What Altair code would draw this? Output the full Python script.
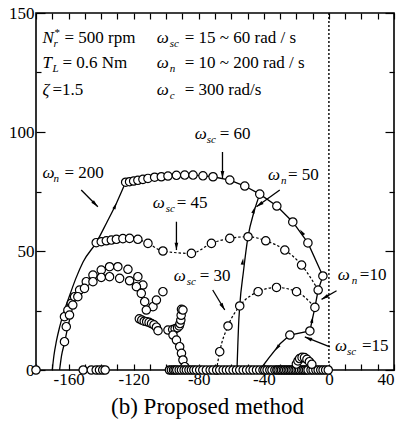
import altair as alt
import pandas as pd
import numpy as np

FONT = "Liberation Serif"
W, H = 358, 357
XD = [-180, 40]
YD = [0, 150]
PX = W / (XD[1] - XD[0])   # px per x unit
PY = H / (YD[1] - YD[0])   # px per y unit

# ---------------- data ----------------
# omega_sc = 60 branch (circles joined by solid line)
s60_x = [-124.9, -122.5, -120, -117.4, -114.3, -111.2, -107.1, -103, -98.9, -93.7, -88.6, -83.5,
         -77.4, -71.2, -60.9, -51.7, -42.5, -32, -22.2, -12.9, -3.7]
s60_y = [78.9, 79.1, 79.4, 79.7, 80.1, 80.5, 81, 81.2, 81.5, 81.8, 81.9, 81.9,
         81.6, 81.2, 79.8, 77.3, 73.9, 68.9, 62.2, 53.4, 39.5]
# omega_sc = 45 branch (circles, dotted line)
s45_x = [-143, -139.9, -136.8, -133.7, -130.6, -126.6, -122.5, -117.4, -111.2, -102, -84.5,
         -72.2, -60.9, -49.7, -38.8, -27.1, -16.8, -6.6]
s45_y = [53.5, 53.9, 54.3, 54.6, 54.9, 55.2, 55.3, 54.9, 53.2, 50, 49,
         53.2, 55.3, 56, 54.3, 50.4, 44.1, 33.6]
# omega_sc = 30 branch (circles, dotted line)
s30_x = [-69.1, -67.1, -62, -54.8, -43.5, -32.2, -19.9, -8.6]
s30_y = [0, 7.7, 18.5, 26.9, 32.9, 34.7, 32.9, 26.3]
# omega_sc = 15 complex poles
s15_x = [-24, -11.7]
s15_y = [14.7, 16.4]
# left complex branches (circles only)
arcU_x = [-162.5, -160.4, -158.3, -156.3, -153.2, -149.1, -145, -139.9, -134.8, -129.7, -123.5,
          -117.4, -114.3, -108.1, -106, -102]
arcU_y = [22.4, 25.2, 28, 30.8, 33.6, 37.1, 39.9, 42, 43.4, 43.4, 42.3,
          39.2, 35.7, 26.6, 29.4, 32.9]
arcL_x = [-162.5, -161.4, -159.4, -157.4, -154.3, -150.2, -145, -139.9, -134.8, -128.6, -122.5,
          -118.3, -115.3, -113.2, -112.2]
arcL_y = [11.9, 18.2, 23.1, 27.3, 30.8, 34.3, 37.1, 38.9, 39.2, 38.5, 37.5,
          35, 32.2, 28.7, 25.2]
clus_x = [-116.5, -115, -113.5, -112, -110.5, -109, -107.5, -106, -105, -98.9, -96, -94.5,
          -93, -92, -91.5, -91, -90.8, -90.6, -89.7]
clus_y = [21.5, 21, 20.5, 20.3, 20, 19.5, 19, 18, 16.5, 16.8, 17, 17.3,
          17.8, 18.5, 19.5, 21, 23, 25.5, 25.2]
vert_x = [-95.8, -93.7, -91.7, -90.6, -89.7, -88.6]
vert_y = [14.7, 12.6, 9.8, 7, 4.2, 1.4]
# real-axis poles
axis_x = [-180, -151, -146, -143, -141, -139, -137.5,
          -98, -96.8, -95.5, -94.5, -93.5, -92, -90.6, -89, -87.6, -86, -84.5, -83, -81.4,
          -79.4, -77.5, -75.3, -73, -71.2, -69, -67.1, -65, -63, -61, -58.9, -56.8, -54.8,
          -52.7, -50.6, -48.5, -46.6, -44.5, -42.5, -40.5, -39.4, -38, -36.3, -35, -33.2,
          -32, -31.2, -30, -29.1, -28, -27.1, -26, -25, -24, -23, -22, -20.9, -20, -18.9,
          -18, -16.8, -15.8, -14.8, -13.8, -12.8, -11, -9.7, -8, -6.6, -5, -3.6, -2, -0.4]
bump_x = [-20, -19, -18, -16.5, -15, -13.5, -12, -10.5]
bump_y = [2.5, 3.8, 4.8, 5.3, 5.2, 4.5, 3.5, 2.4]
# loci for fixed omega_n (solid lines)
n200_x = [-170, -169, -167.5, -165.5, -163, -159.5, -155.5, -151, -143, -136.5, -130.5, -124.9]
n200_y = [0, 6, 12, 18, 24, 31, 38.5, 45.5, 53.5, 62, 70.2, 78.9]
nin_x = [-165.5, -164.3, -162.3, -160.8, -159.4, -158.3]
nin_y = [0, 6, 11.9, 17, 21, 24]
n50_x = [-56.5, -56, -55.5, -54.8, -52.5, -49.7, -46, -42.5]
n50_y = [0, 10, 19, 26.9, 41.5, 56, 66.5, 73.9]
n10_x = [-42.5, -37, -30, -24, -11.7, -8.6, -6.6, -3.7]
n10_y = [0, 5, 11, 14.7, 16.4, 26.3, 33.6, 39.5]
# arrowheads on the loci: tip and direction
head_x = [-130.5, -52.7, -45.5, -33, -9.8, -17.8]
head_y = [70.2, 47, 68.5, 8.2, 22.5, 59]
head_dx = [5.6, 2.8, 3.5, -5.5, 3.1, -9.3]
head_dy = [8.7, 14.5, 7.4, -5.0, 9.9, 8.8]
# annotation arrows
ann_x1 = [-152.2, -65.4, -30.2, -93.7, -71.4, 4.7, 0.6]
ann_y1 = [75.6, 91.6, 75.6, 62.3, 33.6, 33.3, 9.7]
ann_x2 = [-142, -65.4, -44.5, -93.7, -64, -4.5, -14.8]
ann_y2 = [68.6, 80.5, 68.6, 50.4, 25.2, 29.7, 13.9]
# labels: symbol, subscript, remainder
lab_x = [-176, -82.5, -37.5, -108.3, -95.4, 5.5, 3.7, -176, -176, -176, -105.8, -105.8, -105.8]
lab_y = [80.7, 97.1, 79.8, 68.1, 37.4, 37.8, 8, 137.4, 126.9, 115.5, 137.4, 126.9, 115.5]
lab_sym = ["ω", "ω", "ω", "ω", "ω", "ω", "ω", "N", "T", "ζ", "ω", "ω", "ω"]
lab_sub = ["n", "sc", "n", "sc", "sc", "n", "sc", "r", "L", "", "sc", "n", "c"]
lab_rest = ["= 200", "= 60", "= 50", "= 45", "= 30", "=10", "=15", "= 500 rpm", "= 0.6 Nm",
            "=1.5", "= 15 ~ 60 rad / s", "= 10 ~ 200 rad / s", "= 300 rad/s"]
sub_dx = [11, 12, 13, 13, 13, 14, 12, 11, 10, 0, 13, 13, 13]
rest_dx = [22, 25, 20, 24, 26, 22, 27, 22, 20, 10, 28, 28, 28]

x_ticks = list(range(-180, 41, 10))
x_labels = [-160, -120, -80, -40, 0, 40]
y_major = [0, 50, 100, 150]
y_minor = [25, 75, 125]

# ---------------- tables ----------------
def series(name, xs, ys):
    return pd.DataFrame({"s": name, "x": xs, "y": ys, "i": range(len(xs))})

curve_df = pd.concat([series("n200", n200_x, n200_y), series("nin", nin_x, nin_y),
                      series("n50", n50_x, n50_y)])
straight_df = pd.concat([series("n10", n10_x, n10_y), series("s60", s60_x, s60_y)])
dot_df = pd.concat([series("s45", s45_x, s45_y), series("s30", s30_x, s30_y)])
circ_df = pd.concat([series("s60", s60_x, s60_y), series("s45", s45_x, s45_y),
                     series("s30", s30_x, s30_y), series("s15", s15_x, s15_y),
                     series("aU", arcU_x, arcU_y),
                     series("aL", arcL_x, arcL_y), series("cl", clus_x, clus_y),
                     series("v", vert_x, vert_y), series("ax", axis_x, [0] * len(axis_x)),
                     series("b", bump_x, bump_y)])

ang = lambda dx, dy: (np.degrees(np.arctan2(np.array(dx) * PX, np.array(dy) * PY)) + 360) % 360
head_df = pd.DataFrame({"x": head_x, "y": head_y, "a": ang(head_dx, head_dy)})
ann_df = pd.DataFrame({"x": ann_x1, "y": ann_y1, "x2": ann_x2, "y2": ann_y2,
                       "a": ang(np.array(ann_x2) - np.array(ann_x1), np.array(ann_y2) - np.array(ann_y1))})

sym_df = pd.DataFrame({"x": lab_x, "y": lab_y, "t": lab_sym})
sub_df = pd.DataFrame({"x": np.array(lab_x) + np.array(sub_dx) / PX,
                       "y": np.array(lab_y) - 4 / PY, "t": lab_sub})
sub_df = sub_df[sub_df.t != ""]
rest_df = pd.DataFrame({"x": np.array(lab_x) + np.array(rest_dx) / PX, "y": lab_y, "t": lab_rest})
sup_df = pd.DataFrame({"x": [lab_x[7] + 12 / PX], "y": [lab_y[7] + 7 / PY], "t": ["*"]})

XS = alt.Scale(domain=XD, nice=False, zero=False)
YS = alt.Scale(domain=YD, nice=False, zero=False)


def xy(ax=None, ay=None):
    return dict(x=alt.X("x:Q", scale=XS, axis=ax), y=alt.Y("y:Q", scale=YS, axis=ay))


ARROW = "M0,0L-0.6,2.4L0.6,2.4Z"

curves = alt.Chart(curve_df).mark_line(color="black", strokeWidth=1.3, interpolate="monotone").encode(
    detail="s:N", order="i:Q", **xy())
straights = alt.Chart(straight_df).mark_line(color="black", strokeWidth=1.3).encode(
    detail="s:N", order="i:Q", **xy())
dotted = alt.Chart(dot_df).mark_line(color="black", strokeWidth=1.2, strokeDash=[2.5, 2],
                                     interpolate="monotone").encode(detail="s:N", order="i:Q", **xy())
zero_line = alt.Chart(pd.DataFrame({"x": [0]})).mark_rule(
    color="black", strokeWidth=1.4, strokeDash=[2, 2]).encode(x=alt.X("x:Q", scale=XS, axis=None))
circles = alt.Chart(circ_df).mark_point(shape="circle", filled=True, fill="white", stroke="black",
                                        strokeWidth=1.2, size=70, opacity=1).encode(**xy())
heads = alt.Chart(head_df).mark_point(shape=ARROW, filled=True, color="black", size=30, opacity=1).encode(
    angle=alt.Angle("a:Q", scale=None), **xy())
ann_lines = alt.Chart(ann_df).mark_rule(color="black", strokeWidth=1.3).encode(
    x2="x2:Q", y2="y2:Q", **xy())
ann_heads = alt.Chart(ann_df).mark_point(shape=ARROW, filled=True, color="black", size=38, opacity=1).encode(
    x=alt.X("x2:Q", scale=XS, axis=None), y=alt.Y("y2:Q", scale=YS, axis=None),
    angle=alt.Angle("a:Q", scale=None))

txt = dict(font=FONT, color="black", align="left", baseline="alphabetic")
t_sym = alt.Chart(sym_df).mark_text(fontSize=17, fontStyle="italic", **txt).encode(text="t:N", **xy())
t_sub = alt.Chart(sub_df).mark_text(fontSize=11, fontStyle="italic", **txt).encode(text="t:N", **xy())
t_rest = alt.Chart(rest_df).mark_text(fontSize=17, **txt).encode(text="t:N", **xy())
t_sup = alt.Chart(sup_df).mark_text(fontSize=11, **txt).encode(text="t:N", **xy())

# ---------------- axes (labels outside, ticks inward on all sides) ----------------
dummy = pd.DataFrame({"x": [0.0], "y": [0.0]})
lab_common = dict(labelFont=FONT, labelFontSize=17, labelColor="black", ticks=False, tickSize=0,
                  domain=False, grid=False, labelExpr="'' + datum.value")
x_lab_axis = alt.Axis(orient="bottom", values=x_labels, labelPadding=1, title="(b) Proposed method",
                      titleFont=FONT, titleFontSize=23, titleFontWeight="normal", titleColor="black",
                      titleX=171, titleY=43, titleBaseline="alphabetic", titleAlign="center", **lab_common)
y_lab_axis = alt.Axis(orient="left", values=y_major, labelPadding=2, title=None, **lab_common)


def tick_axis(orient, offset, values, size):
    return alt.Axis(orient=orient, offset=offset, values=values, labels=False, domain=False, grid=False,
                    ticks=True, tickSize=size, tickColor="black", tickWidth=1.2, title=None)


axis_layers = [
    alt.Chart(dummy).mark_point(opacity=0).encode(**xy(x_lab_axis, y_lab_axis)),
    alt.Chart(dummy).mark_point(opacity=0).encode(**xy(tick_axis("top", -H, x_ticks, 6),
                                                       tick_axis("right", -W, y_major, 9))),
    alt.Chart(dummy).mark_point(opacity=0).encode(**xy(tick_axis("bottom", -H, x_ticks, 6),
                                                       tick_axis("left", -W, y_major, 9))),
    alt.Chart(dummy).mark_point(opacity=0).encode(**xy(None, tick_axis("right", -W, y_minor, 5))),
    alt.Chart(dummy).mark_point(opacity=0).encode(**xy(None, tick_axis("left", -W, y_minor, 5))),
]

chart = alt.layer(
    *axis_layers, zero_line, curves, straights, dotted, circles, heads, ann_lines, ann_heads,
    t_sym, t_sub, t_rest, t_sup
).resolve_axis(x="independent", y="independent").properties(
    width=W, height=H, autosize=alt.AutoSizeParams(type="none"),
    padding={"left": 36, "top": 13, "right": 10, "bottom": 51},
    background="white"
).configure_view(stroke="black", strokeWidth=1.6)

chart.save("out.html", embed_options={"renderer": "svg", "actions": False})
